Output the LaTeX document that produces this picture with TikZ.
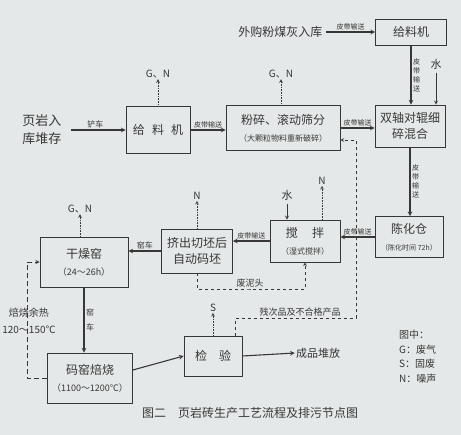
\documentclass[tikz,border=0pt]{standalone}
\usepackage{fontspec}
\setmainfont{Noto Sans CJK SC}
\usepackage{tikz}
\usetikzlibrary{arrows,positioning}
\definecolor{pgpaper}{RGB}{229,232,232}
\definecolor{pgink}{RGB}{55,55,55}
\tikzstyle{arrow} = [line width=1.1pt,->,>=stealth,color=pgink]
\tikzstyle{stage} = [rectangle, draw=pgink, line width=0.7pt, text=pgink, align=center, inner sep=2pt, font=\fontsize{12}{16}\selectfont]
\tikzstyle{emit} = [densely dotted, line width=0.6pt, ->, >=stealth, color=pgink]
\tikzstyle{back} = [dashed, line width=0.7pt, ->, >=stealth, color=pgink]
\tikzstyle{belt} = [font=\fontsize{7}{9}\selectfont, text=pgink, inner sep=1.5pt]
\tikzstyle{gas} = [font=\fontsize{10}{12}\selectfont, text=pgink, inner sep=1pt]
\tikzstyle{plain} = [font=\fontsize{12}{17}\selectfont, text=pgink, align=center]

\begin{document}
\begin{tikzpicture}[x=1pt, y=-1pt]
\fill[pgpaper] (0,0) rectangle (461,435);
\useasboundingbox (0,0) rectangle (461,435);

% Raw material
\node (ash) [plain, anchor=east] at (326,32) {外购粉煤灰入库};
\node (feedT) [stage, minimum width=71pt, minimum height=26pt] at (411,32) {给料机};
\node (shale) [plain, font=\fontsize{13}{18}\selectfont] at (42,130) {页岩入\\库堆存};
\node (feedL) [stage, minimum width=64pt, minimum height=47pt] at (158,130) {给\hspace{0.6em}料\hspace{0.6em}机};

% Crushing and mixing
\node (crush) [stage, minimum width=114pt, minimum height=45pt] at (283,128) {粉碎、滚动筛分\\[1pt]{\fontsize{8}{10}\selectfont （大颗粒物料重新破碎）}};
\node (mill) [stage, minimum width=70pt, minimum height=42pt] at (410,126) {双轴对辊细\\碎混合};
\node (aging) [stage, minimum width=68pt, minimum height=41pt] at (409,237) {陈化仓\\[1pt]{\fontsize{7}{9}\selectfont （陈化时间 72h）}};
\node (stir) [stage, minimum width=70pt, minimum height=42pt] at (305,241) {搅\hspace{1.2em}拌\\[1pt]{\fontsize{8}{10}\selectfont （湿式搅拌）}};
\node (press) [stage, minimum width=71pt, minimum height=44pt] at (197,251) {挤出切坯后\\自动码坯};

% Drying, firing, check
\node (dry) [stage, minimum width=88pt, minimum height=50pt] at (84,262) {干燥窑\\[1pt]{\fontsize{9}{11}\selectfont （24～26h）}};
\node (kiln) [stage, minimum width=85pt, minimum height=50pt] at (90,378) {码窑焙烧\\[1pt]{\fontsize{9}{11}\selectfont （1100～1200℃）}};
\node (test) [stage, minimum width=58pt, minimum height=40pt] at (213,356) {检\hspace{1em}验};
\node (store) [plain, font=\fontsize{11}{14}\selectfont, inner sep=1pt] at (318,353) {成品堆放};

% Main flow
\draw[arrow] (ash) -- (feedT) node[midway, above, belt] {皮带输送};
\draw[arrow, shorten <=6pt] (shale) -- (feedL) node[midway, above, belt, font=\fontsize{8}{10}\selectfont] {铲车};
\draw[arrow] (feedL.east) -- (feedL.east -| crush.west) node[midway, above, belt] {皮带输送};
\draw[arrow] (crush.east) -- (crush.east -| mill.west) node[midway, above, belt] {皮带输送};
\draw[arrow] (feedT.south) -- (feedT.south |- mill.north) node[midway, right, belt, align=center] {皮\\带\\输\\送};
\draw[arrow] (mill.south) -- (mill.south |- aging.north) node[midway, right, belt, align=center] {皮\\带\\输\\送};
\draw[arrow] (aging.west) -- (aging.west -| stir.east) node[midway, above, belt] {皮带输送};
\draw[arrow] (stir.west) -- (stir.west -| press.east) node[midway, above, belt] {皮带输送};
\draw[arrow] (press.west) -- (press.west -| dry.east) node[midway, above, belt, font=\fontsize{8}{10}\selectfont] {窑车};
\draw[arrow] (dry.south) -- (dry.south |- kiln.north) node[midway, right, belt, align=center, font=\fontsize{8}{10}\selectfont] {窑\\[5pt]车};
\draw[arrow] ([yshift=8pt]kiln.east) -- (test.west);
\draw[arrow] (test.east) -- (store.west);

% Water
\node (w1) [plain, font=\fontsize{11}{13}\selectfont] at (436,64) {水};
\node (w2) [plain, font=\fontsize{11}{13}\selectfont] at (287,195) {水};
\draw[arrow, line width=0.8pt] (w1) -- (mill.north -| w1);
\draw[arrow, line width=0.8pt] (w2) -- (stir.north -| w2);

% Emissions
\node (gn1) [gas] at (158,74) {G、N};
\node (gn2) [gas] at (281,74) {G、N};
\node (nstir) [gas] at (322,181) {N};
\node (npress) [gas] at (197,196) {N};
\node (gn3) [gas] at (80,209) {G、N};
\node (stest) [gas] at (213,308) {S};
\draw[emit] (feedL) -- (gn1);
\draw[emit] (crush.north -| gn2) -- (gn2);
\draw[emit] (stir.north -| nstir) -- (nstir);
\draw[emit] (press) -- (npress);
\draw[emit] (dry.north -| gn3) -- (gn3);
\draw[emit] (test) -- (stest);

% Returns
\coordinate (mud) at (250,289);
\draw[back] (press.south) |- (mud) -| (stir.south);
\node (mudlab) [gas, font=\fontsize{9}{11}\selectfont, above=1pt] at (mud) {废泥头};
\coordinate (rej) at (300,318);
\coordinate (rejc) at (356,140);
\draw[back] ([xshift=-7pt]test.north east) |- (rej) -| (rejc) -- (crush.east |- rejc);
\node (rejlab) [gas, font=\fontsize{9}{11}\selectfont, above=1pt] at (rej) {残次品及不合格产品};
\coordinate (heat) at (27,320);
\draw[back, dash pattern=on 5pt off 3pt, line width=0.9pt] (kiln.west) -| (heat) |- (dry.west);
\node (heatlab) [gas, align=center, font=\fontsize{10}{17}\selectfont] at (29,321) {焙烧余热\\120～150℃};

% Legend and title
\node (legend) [gas, anchor=north west, align=left, font=\fontsize{10}{14.5}\selectfont] at (398,329) {图中：\\G：废气\\S：固废\\N：噪声};
\node (title) [plain, font=\fontsize{12}{14}\selectfont] at (250,413) {图二\quad 页岩砖生产工艺流程及排污节点图};
\end{tikzpicture}
\end{document}
